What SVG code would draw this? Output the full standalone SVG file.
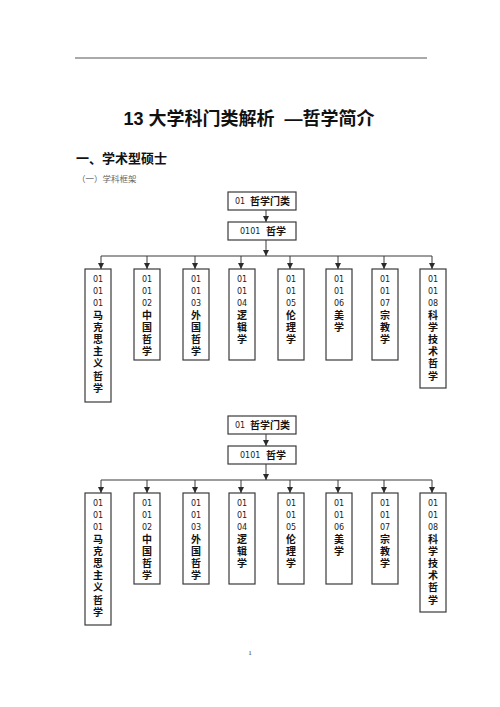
<svg xmlns="http://www.w3.org/2000/svg" width="500" height="707" viewBox="0 0 500 707">
<style>
.bg{fill:#ffffff}
.box{fill:#ffffff;stroke:#3a3a3a;stroke-width:1.2}
.conn{stroke:#3a3a3a;stroke-width:1;fill:none}
.num{font-family:"DejaVu Sans","Noto Sans CJK SC",sans-serif;font-size:8px;fill:#222;text-anchor:middle}
.cjk{font-family:"Noto Sans CJK SC",sans-serif;font-size:10px;font-weight:bold;fill:#111;writing-mode:vertical-rl;text-orientation:upright;letter-spacing:2.1px}
.hnum{font-family:"DejaVu Sans","Noto Sans CJK SC",sans-serif;font-size:8px;fill:#222}
.hcjk{font-family:"Noto Sans CJK SC",sans-serif;font-size:10px;font-weight:bold;fill:#111}
.title{font-family:"Liberation Sans","Noto Sans CJK SC",sans-serif;font-size:18px;font-weight:bold;fill:#111;text-anchor:middle}
.h1{font-family:"Noto Sans CJK SC",sans-serif;font-size:13px;font-weight:bold;fill:#111}
.h2{font-family:"Noto Sans CJK SC",sans-serif;font-size:8.5px;fill:#666}
.pg{font-family:"Liberation Serif",serif;font-size:7px;fill:#333;text-anchor:middle}
</style>
<defs>
<marker id="arr" markerUnits="userSpaceOnUse" markerWidth="6" markerHeight="6" refX="6" refY="3" orient="auto">
<path d="M0,0 L6,3 L0,6 z" fill="#2a2a2a"/>
</marker>
</defs>
<rect class="bg" x="0" y="0" width="500" height="707"/>
<line x1="75" y1="58" x2="427" y2="58" stroke="#555" stroke-width="1"/>
<text class="title" x="249" y="125" xml:space="preserve">13 大学科门类解析  —哲学简介</text>
<text class="h1" x="76" y="163">一、学术型硕士</text>
<text class="h2" x="77" y="182">（一）学科框架</text>

<g id="connectors">
<line class="conn" x1="266" y1="210" x2="266" y2="222" marker-end="url(#arr)"/>
<line class="conn" x1="266" y1="240" x2="266" y2="256" marker-end="url(#arr)"/>
<line class="conn" x1="101" y1="256" x2="432" y2="256"/>
<line class="conn" x1="101" y1="256" x2="101" y2="269" marker-end="url(#arr)"/>
<line class="conn" x1="147" y1="256" x2="147" y2="269" marker-end="url(#arr)"/>
<line class="conn" x1="195" y1="256" x2="195" y2="269" marker-end="url(#arr)"/>
<line class="conn" x1="241" y1="256" x2="241" y2="269" marker-end="url(#arr)"/>
<line class="conn" x1="290" y1="256" x2="290" y2="269" marker-end="url(#arr)"/>
<line class="conn" x1="338" y1="256" x2="338" y2="269" marker-end="url(#arr)"/>
<line class="conn" x1="384" y1="256" x2="384" y2="269" marker-end="url(#arr)"/>
<line class="conn" x1="432" y1="256" x2="432" y2="269" marker-end="url(#arr)"/>

<line class="conn" x1="266" y1="434" x2="266" y2="446" marker-end="url(#arr)"/>
<line class="conn" x1="266" y1="464" x2="266" y2="480" marker-end="url(#arr)"/>
<line class="conn" x1="101" y1="480" x2="432" y2="480"/>
<line class="conn" x1="101" y1="480" x2="101" y2="493" marker-end="url(#arr)"/>
<line class="conn" x1="147" y1="480" x2="147" y2="493" marker-end="url(#arr)"/>
<line class="conn" x1="195" y1="480" x2="195" y2="493" marker-end="url(#arr)"/>
<line class="conn" x1="241" y1="480" x2="241" y2="493" marker-end="url(#arr)"/>
<line class="conn" x1="290" y1="480" x2="290" y2="493" marker-end="url(#arr)"/>
<line class="conn" x1="338" y1="480" x2="338" y2="493" marker-end="url(#arr)"/>
<line class="conn" x1="384" y1="480" x2="384" y2="493" marker-end="url(#arr)"/>
<line class="conn" x1="432" y1="480" x2="432" y2="493" marker-end="url(#arr)"/>
</g>

<!-- Tree 1 -->
<g id="t1-root">
<rect class="box" x="228" y="192" width="68" height="18"/>
<text class="hnum" x="235" y="204">01</text>
<text class="hcjk" x="250" y="205">哲学门类</text>
</g>
<g id="t1-0101">
<rect class="box" x="228" y="222" width="68" height="18"/>
<text class="hnum" x="240" y="234">0101</text>
<text class="hcjk" x="266" y="235">哲学</text>
</g>
<g id="t1-010101">
<rect class="box" x="85" y="269" width="26" height="133"/>
<text class="num"><tspan x="98" y="282">01</tspan><tspan x="98" y="294">01</tspan><tspan x="98" y="306">01</tspan></text>
<text class="cjk" x="98" y="310.3">马克思主义哲学</text>
</g>
<g id="t1-010102">
<rect class="box" x="134" y="269" width="26" height="91"/>
<text class="num"><tspan x="147" y="282">01</tspan><tspan x="147" y="294">01</tspan><tspan x="147" y="306">02</tspan></text>
<text class="cjk" x="147" y="310.3">中国哲学</text>
</g>
<g id="t1-010103">
<rect class="box" x="183" y="269" width="26" height="91"/>
<text class="num"><tspan x="196" y="282">01</tspan><tspan x="196" y="294">01</tspan><tspan x="196" y="306">03</tspan></text>
<text class="cjk" x="196" y="310.3">外国哲学</text>
</g>
<g id="t1-010104">
<rect class="box" x="229" y="269" width="26" height="91"/>
<text class="num"><tspan x="242" y="282">01</tspan><tspan x="242" y="294">01</tspan><tspan x="242" y="306">04</tspan></text>
<text class="cjk" x="242" y="310.3">逻辑学</text>
</g>
<g id="t1-010105">
<rect class="box" x="278" y="269" width="26" height="91"/>
<text class="num"><tspan x="291" y="282">01</tspan><tspan x="291" y="294">01</tspan><tspan x="291" y="306">05</tspan></text>
<text class="cjk" x="291" y="310.3">伦理学</text>
</g>
<g id="t1-010106">
<rect class="box" x="326" y="269" width="26" height="91"/>
<text class="num"><tspan x="339" y="282">01</tspan><tspan x="339" y="294">01</tspan><tspan x="339" y="306">06</tspan></text>
<text class="cjk" x="339" y="310.3">美学</text>
</g>
<g id="t1-010107">
<rect class="box" x="372" y="269" width="26" height="91"/>
<text class="num"><tspan x="385" y="282">01</tspan><tspan x="385" y="294">01</tspan><tspan x="385" y="306">07</tspan></text>
<text class="cjk" x="385" y="310.3">宗教学</text>
</g>
<g id="t1-010108">
<rect class="box" x="420" y="269" width="26" height="119"/>
<text class="num"><tspan x="433" y="282">01</tspan><tspan x="433" y="294">01</tspan><tspan x="433" y="306">08</tspan></text>
<text class="cjk" x="433" y="310.3">科学技术哲学</text>
</g>

<!-- Tree 2 -->
<g id="t2-root">
<rect class="box" x="228" y="416" width="68" height="18"/>
<text class="hnum" x="235" y="428">01</text>
<text class="hcjk" x="250" y="429">哲学门类</text>
</g>
<g id="t2-0101">
<rect class="box" x="228" y="446" width="68" height="18"/>
<text class="hnum" x="240" y="458">0101</text>
<text class="hcjk" x="266" y="459">哲学</text>
</g>
<g id="t2-010101">
<rect class="box" x="85" y="493" width="26" height="132"/>
<text class="num"><tspan x="98" y="506">01</tspan><tspan x="98" y="518">01</tspan><tspan x="98" y="530">01</tspan></text>
<text class="cjk" x="98" y="534.3">马克思主义哲学</text>
</g>
<g id="t2-010102">
<rect class="box" x="134" y="493" width="26" height="91"/>
<text class="num"><tspan x="147" y="506">01</tspan><tspan x="147" y="518">01</tspan><tspan x="147" y="530">02</tspan></text>
<text class="cjk" x="147" y="534.3">中国哲学</text>
</g>
<g id="t2-010103">
<rect class="box" x="183" y="493" width="26" height="91"/>
<text class="num"><tspan x="196" y="506">01</tspan><tspan x="196" y="518">01</tspan><tspan x="196" y="530">03</tspan></text>
<text class="cjk" x="196" y="534.3">外国哲学</text>
</g>
<g id="t2-010104">
<rect class="box" x="229" y="493" width="26" height="91"/>
<text class="num"><tspan x="242" y="506">01</tspan><tspan x="242" y="518">01</tspan><tspan x="242" y="530">04</tspan></text>
<text class="cjk" x="242" y="534.3">逻辑学</text>
</g>
<g id="t2-010105">
<rect class="box" x="278" y="493" width="26" height="91"/>
<text class="num"><tspan x="291" y="506">01</tspan><tspan x="291" y="518">01</tspan><tspan x="291" y="530">05</tspan></text>
<text class="cjk" x="291" y="534.3">伦理学</text>
</g>
<g id="t2-010106">
<rect class="box" x="326" y="493" width="26" height="91"/>
<text class="num"><tspan x="339" y="506">01</tspan><tspan x="339" y="518">01</tspan><tspan x="339" y="530">06</tspan></text>
<text class="cjk" x="339" y="534.3">美学</text>
</g>
<g id="t2-010107">
<rect class="box" x="372" y="493" width="26" height="91"/>
<text class="num"><tspan x="385" y="506">01</tspan><tspan x="385" y="518">01</tspan><tspan x="385" y="530">07</tspan></text>
<text class="cjk" x="385" y="534.3">宗教学</text>
</g>
<g id="t2-010108">
<rect class="box" x="420" y="493" width="26" height="119"/>
<text class="num"><tspan x="433" y="506">01</tspan><tspan x="433" y="518">01</tspan><tspan x="433" y="530">08</tspan></text>
<text class="cjk" x="433" y="534.3">科学技术哲学</text>
</g>

<text class="pg" x="250" y="655">1</text>
</svg>
